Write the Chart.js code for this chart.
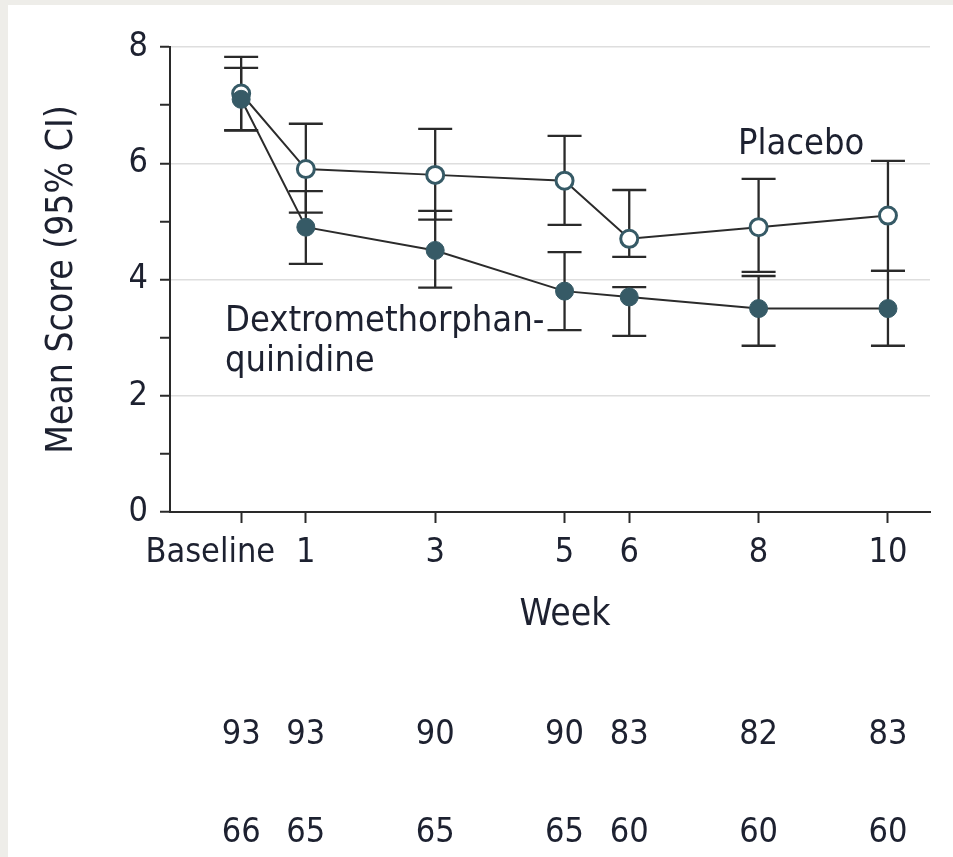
<!DOCTYPE html>
<html>
<head>
<meta charset="utf-8">
<script src="https://cdn.jsdelivr.net/npm/chart.js@4.4.1/dist/chart.umd.min.js"></script>
<style>
  html, body { margin: 0; padding: 0; background: #eeede9; }
  #panel { position: absolute; left: 8px; top: 5px; width: 945px; height: 852px; background: #fff; }
  #wrap { position: absolute; left: 0; top: 0; width: 953px; height: 857px; }
</style>
</head>
<body>
<div id="panel"></div>
<div id="wrap"><canvas id="chart"></canvas></div>
<script>
// weeks on the x axis (Baseline = week 0)
const weeks = [0, 1, 3, 5, 6, 8, 10];
const weekLabels = ['Baseline', '1', '3', '5', '6', '8', '10'];

const placeboMean = [7.2, 5.9, 5.8, 5.7, 4.7, 4.9, 5.1];
const placeboLow  = [6.57, 5.15, 5.03, 4.94, 4.39, 4.13, 4.15];
const placeboHigh = [7.83, 6.68, 6.59, 6.47, 5.54, 5.73, 6.04];

const dmqMean = [7.1, 4.9, 4.5, 3.8, 3.7, 3.5, 3.5];
const dmqLow  = [6.56, 4.27, 3.86, 3.13, 3.03, 2.86, 2.86];
const dmqHigh = [7.64, 5.52, 5.18, 4.47, 3.87, 4.06, 4.15];

// numbers under the axis
const countsRow1 = [93, 93, 90, 90, 83, 82, 83];
const countsRow2 = [66, 65, 65, 65, 60, 60, 60];

const FONT = "'DejaVu Sans Condensed', 'Liberation Sans Narrow', 'DejaVu Sans', sans-serif";
const TEXT = '#1d2130';
const AXIS = '#2a2a2a';
const GRID = '#dedede';
const TEAL = '#365a66';

Chart.defaults.font.family = FONT;
Chart.defaults.font.size = 34;
Chart.defaults.font.lineHeight = 1.2;
Chart.defaults.color = TEXT;

const toPoints = (vals) => weeks.map((w, i) => ({ x: w, y: vals[i] }));

// error bars, drawn under the markers
const errorBars = {
    id: 'errorBars',
    beforeDatasetsDraw(chart) {
        const { ctx, scales: { x, y } } = chart;
        const sets = [[placeboLow, placeboHigh], [dmqLow, dmqHigh]];
        ctx.save();
        ctx.strokeStyle = AXIS;
        ctx.lineWidth = 2.3;
        sets.forEach(([lo, hi]) => {
            weeks.forEach((w, i) => {
                const px = x.getPixelForValue(w);
                const y1 = y.getPixelForValue(lo[i]);
                const y2 = y.getPixelForValue(hi[i]);
                ctx.beginPath();
                ctx.moveTo(px, y1); ctx.lineTo(px, y2);
                ctx.moveTo(px - 17, y1); ctx.lineTo(px + 17, y1);
                ctx.moveTo(px - 17, y2); ctx.lineTo(px + 17, y2);
                ctx.stroke();
            });
        });
        ctx.restore();
    }
};

// week labels, axis title, counts and series names
const extraText = {
    id: 'extraText',
    afterDraw(chart) {
        const { ctx, scales: { x, y } } = chart;
        ctx.save();
        ctx.fillStyle = TEXT;
        ctx.font = `34px ${FONT}`;
        ctx.textBaseline = 'middle';

        const base = x.top;
        weeks.forEach((w, i) => {
            const px = x.getPixelForValue(w);
            if (i === 0) {
                ctx.textAlign = 'right';
                ctx.fillText(weekLabels[i], px + 34, base + 41);
            } else {
                ctx.textAlign = 'center';
                ctx.fillText(weekLabels[i], px, base + 41);
            }
            ctx.textAlign = 'center';
            ctx.fillText(String(countsRow1[i]), px, base + 223);
            ctx.fillText(String(countsRow2[i]), px, base + 321);
        });

        ctx.font = `37px ${FONT}`;
        ctx.textAlign = 'center';
        ctx.fillText('Week', (x.left + x.right) / 2 + 15, base + 103);

        ctx.font = `36px ${FONT}`;
        ctx.textAlign = 'left';
        ctx.fillText('Placebo', x.getPixelForValue(7.68), y.getPixelForValue(6.32));
        ctx.fillText('Dextromethorphan-', x.getPixelForValue(-0.25), y.getPixelForValue(3.27));
        ctx.fillText('quinidine', x.getPixelForValue(-0.25), y.getPixelForValue(2.58));
        ctx.restore();
    }
};

new Chart(document.getElementById('chart'), {
    type: 'line',
    data: {
        datasets: [
            {
                label: 'Dextromethorphan-quinidine',
                data: toPoints(dmqMean),
                borderColor: '#2b2b2b',
                borderWidth: 2,
                pointRadius: 9,
                pointBackgroundColor: TEAL,
                pointBorderColor: TEAL,
                pointBorderWidth: 1,
                order: 0
            },
            {
                label: 'Placebo',
                data: toPoints(placeboMean),
                borderColor: '#2b2b2b',
                borderWidth: 2,
                pointRadius: 8.5,
                pointBackgroundColor: '#ffffff',
                pointBorderColor: TEAL,
                pointBorderWidth: 3,
                order: 1
            }
        ]
    },
    options: {
        responsive: true,
        maintainAspectRatio: false,
        animation: false,
        layout: { padding: { left: 0, top: 47, right: 23, bottom: 217 } },
        plugins: { legend: { display: false }, tooltip: { enabled: false } },
        scales: {
            x: {
                type: 'linear',
                min: -1.1,
                max: 10.65,
                afterBuildTicks: (scale) => { scale.ticks = weeks.map(v => ({ value: v })); },
                afterFit: (scale) => { scale.height = 128; },
                ticks: { display: false },
                grid: { drawOnChartArea: false, drawTicks: true, tickLength: 11, tickColor: AXIS, tickWidth: 2 },
                border: { color: AXIS, width: 2 }
            },
            y: {
                min: 0,
                max: 8,
                afterFit: (scale) => { scale.width = 170; },
                ticks: {
                    stepSize: 1,
                    padding: 12,
                    color: TEXT,
                    callback: (v) => (v % 2 === 0 ? v : '')
                },
                grid: {
                    color: (c) => (c.tick && c.tick.value % 2 === 0 && c.tick.value > 0 ? GRID : 'rgba(0,0,0,0)'),
                    lineWidth: 1.5,
                    tickColor: AXIS,
                    tickWidth: 2,
                    tickLength: 10
                },
                border: { color: AXIS, width: 2 },
                title: {
                    display: true,
                    text: 'Mean Score (95% CI)',
                    color: TEXT,
                    font: { size: 37 },
                    padding: { top: 40, bottom: 0 }
                }
            }
        }
    },
    plugins: [errorBars, extraText]
});
</script>
</body>
</html>
